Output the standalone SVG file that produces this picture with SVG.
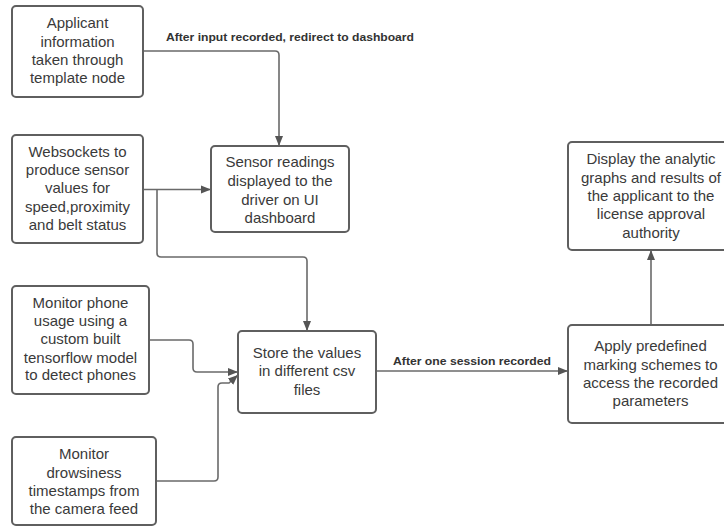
<svg xmlns="http://www.w3.org/2000/svg" width="724" height="527" viewBox="0 0 724 527">
<style>
.box{fill:#fff;stroke:#5f5f5f;stroke-width:2}
.t{font-family:"Liberation Sans",Arial,sans-serif;font-size:15px;fill:#3a3a3a;text-anchor:middle}
.lbl{font-family:"Liberation Sans",Arial,sans-serif;font-size:11.5px;font-weight:bold;fill:#333}
.c{fill:none;stroke:#6a6a6a;stroke-width:1.6}
</style>
<defs>
<marker id="ah" viewBox="0 0 10 10" refX="10" refY="5" markerWidth="10" markerHeight="10" markerUnits="userSpaceOnUse" orient="auto">
<path d="M0,1 L10,5 L0,9 Z" fill="#555"/>
</marker>
</defs>
<rect width="724" height="527" fill="#fff"/>
<g id="connectors">
<path class="c" d="M143,51 H275 q4,0 4,4 V146" marker-end="url(#ah)"/>
<path class="c" d="M143,189.5 H211" marker-end="url(#ah)"/>
<path class="c" d="M157,189.5 V253 q0,4 4,4 H303 q4,0 4,4 V331" marker-end="url(#ah)"/>
<path class="c" d="M149,340 H189 q4,0 4,4 V368 q0,4 4,4 H238" marker-end="url(#ah)"/>
<path class="c" d="M156,481 H214 q4,0 4,-4 V387 q0,-4 4,-4 H229 L238,375" marker-end="url(#ah)"/>
<path class="c" d="M376,371 H568" marker-end="url(#ah)"/>
<path class="c" d="M651,325 V250" marker-end="url(#ah)"/>
<text class="lbl" x="166" y="41" textLength="248" lengthAdjust="spacingAndGlyphs">After input recorded, redirect to dashboard</text>
<text class="lbl" x="393" y="365" textLength="158" lengthAdjust="spacingAndGlyphs">After one session recorded</text>
</g>
<g id="n1">
<rect class="box" x="12" y="6" width="131" height="91" rx="4"/>
<text class="t"><tspan x="77.5" y="28">Applicant</tspan><tspan x="77.5" y="46.5">information</tspan><tspan x="77.5" y="65">taken through</tspan><tspan x="77.5" y="83">template node</tspan></text>
</g>
<g id="n2">
<rect class="box" x="12" y="135" width="131" height="108" rx="4"/>
<text class="t"><tspan x="77.5" y="157">Websockets to</tspan><tspan x="77.5" y="175">produce sensor</tspan><tspan x="77.5" y="193">values for</tspan><tspan x="77.5" y="211.5">speed,proximity</tspan><tspan x="77.5" y="229.5">and belt status</tspan></text>
</g>
<g id="n3">
<rect class="box" x="211" y="146" width="138" height="86" rx="4"/>
<text class="t"><tspan x="280" y="167">Sensor readings</tspan><tspan x="280" y="186">displayed to the</tspan><tspan x="280" y="205">driver on UI</tspan><tspan x="280" y="223">dashboard</tspan></text>
</g>
<g id="n4">
<rect class="box" x="12" y="286" width="137" height="108" rx="4"/>
<text class="t"><tspan x="80.5" y="308">Monitor phone</tspan><tspan x="80.5" y="326">usage using a</tspan><tspan x="80.5" y="344">custom built</tspan><tspan x="80.5" y="362.5">tensorflow model</tspan><tspan x="80.5" y="380">to detect phones</tspan></text>
</g>
<g id="n5">
<rect class="box" x="238" y="331" width="138" height="82" rx="4"/>
<text class="t"><tspan x="307" y="358">Store the values</tspan><tspan x="307" y="376">in different csv</tspan><tspan x="307" y="394.5">files</tspan></text>
</g>
<g id="n6">
<rect class="box" x="12" y="437" width="144" height="88" rx="4"/>
<text class="t"><tspan x="84" y="459">Monitor</tspan><tspan x="84" y="477.5">drowsiness</tspan><tspan x="84" y="496">timestamps from</tspan><tspan x="84" y="514">the camera feed</tspan></text>
</g>
<g id="n7">
<rect class="box" x="568" y="142" width="160" height="108" rx="4"/>
<text class="t"><tspan x="651" y="164">Display the analytic</tspan><tspan x="651" y="182.5">graphs and results of</tspan><tspan x="651" y="201">the applicant to the</tspan><tspan x="651" y="219">license approval</tspan><tspan x="651" y="237.5">authority</tspan></text>
</g>
<g id="n8">
<rect class="box" x="568" y="325" width="160" height="98" rx="4"/>
<text class="t"><tspan x="650.5" y="351">Apply predefined</tspan><tspan x="650.5" y="369.5">marking schemes to</tspan><tspan x="650.5" y="387.5">access the recorded</tspan><tspan x="650.5" y="406">parameters</tspan></text>
</g>
</svg>
